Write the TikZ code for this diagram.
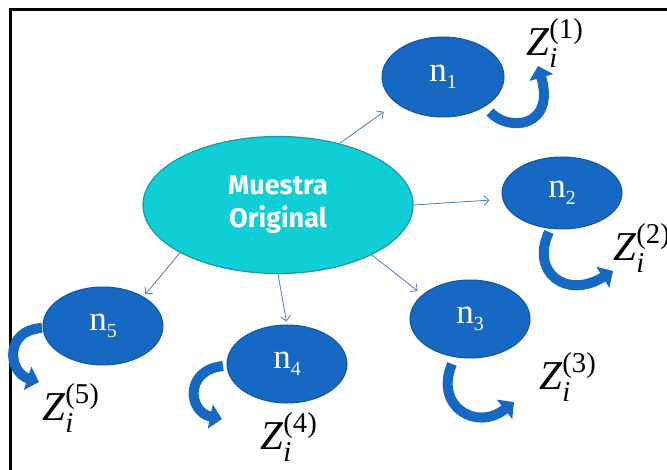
\documentclass[tikz,border=0pt]{standalone}
\usepackage{amsmath}
\usepackage{fontspec}
\setmainfont{Liberation Serif}
\newfontfamily\mofont{Fira Sans}
\usetikzlibrary{shapes.geometric,arrows.meta}
\definecolor{nblue}{RGB}{22,104,194}
\definecolor{nedge}{RGB}{20,84,160}
\definecolor{mcyan}{RGB}{16,206,214}
\definecolor{medge}{RGB}{28,150,160}
\definecolor{lblue}{RGB}{74,126,187}
\newcommand{\nlab}[1]{n\raisebox{-7pt}{\fontsize{20}{20}\selectfont #1}}
\newcommand{\zlab}[1]{$\text{\itshape Z}_{\text{\itshape i}}^{\text{(#1)}}$}

\begin{document}
\begin{tikzpicture}[x=1pt,y=-1pt,
  muestra/.style={ellipse,fill=mcyan,draw=medge,line width=1.2pt,minimum width=270pt,minimum height=137pt,inner sep=0pt,text=white,align=center,font=\mofont\bfseries\fontsize{27}{33}\selectfont},
  sub/.style={ellipse,fill=nblue,draw=nedge,line width=1pt,minimum width=120pt,minimum height=78pt,inner sep=0pt,text=white,font=\fontsize{35}{40}\selectfont},
  zlabel/.style={inner sep=0pt,font=\fontsize{41}{44}\selectfont},
  link/.style={lblue,line width=.8pt,-{Straight Barb[length=5pt,width=10pt]}},
  loop/.style={nblue,line width=10pt,-{Triangle[length=12pt,width=24pt]}}]
\useasboundingbox (0,0) rectangle (667,470);
% frame
\draw[line width=3pt] (10,470)--(10,10)--(667,10);
% nodes
\node[muestra] (M) at (278,205) {Muestra\\Original};
\node[sub,minimum width=122pt,minimum height=80pt] (n1) at (443,77) {\nlab{1}};
\node[sub,minimum height=72pt] (n2) at (562,193) {\nlab{2}};
\node[sub] (n3) at (470,319) {\nlab{3}};
\node[sub] (n4) at (287,364) {\nlab{4}};
\node[sub] (n5) at (103,326) {\nlab{5}};
% labels
\node[zlabel] (z1) at (555,43) {\zlab{1}};
\node[zlabel] (z2) at (642,248) {\zlab{2}};
\node[zlabel] (z3) at (568,377) {\zlab{3}};
\node[zlabel] (z4) at (289,437) {\zlab{4}};
\node[zlabel] (z5) at (71,408) {\zlab{5}};
% links
\draw[link,shorten >=15pt] (M.45)--(n1.209);
\draw[link,shorten >=13pt] (M.0)--(n2.186);
\draw[link,shorten >=6pt] (M.332)--(n3.153);
\draw[link,shorten >=3pt] (M.270)--(n4.90);
\draw[link,shorten >=3pt] (M.206)--(n5.36);
% curved arrows
\draw[loop] (490,112) .. controls (508,132) and (556,128) .. (538,66);
\draw[loop] (549,232) .. controls (530,272) and (566,300) .. (613,271);
\draw[loop] (452,364) .. controls (434,406) and (476,432) .. (514,402);
\draw[loop] (42,328) .. controls (4,330) and (8,372) .. (39,382);
\draw[loop] (223,366) .. controls (184,370) and (188,412) .. (222,419);
\end{tikzpicture}
\end{document}
